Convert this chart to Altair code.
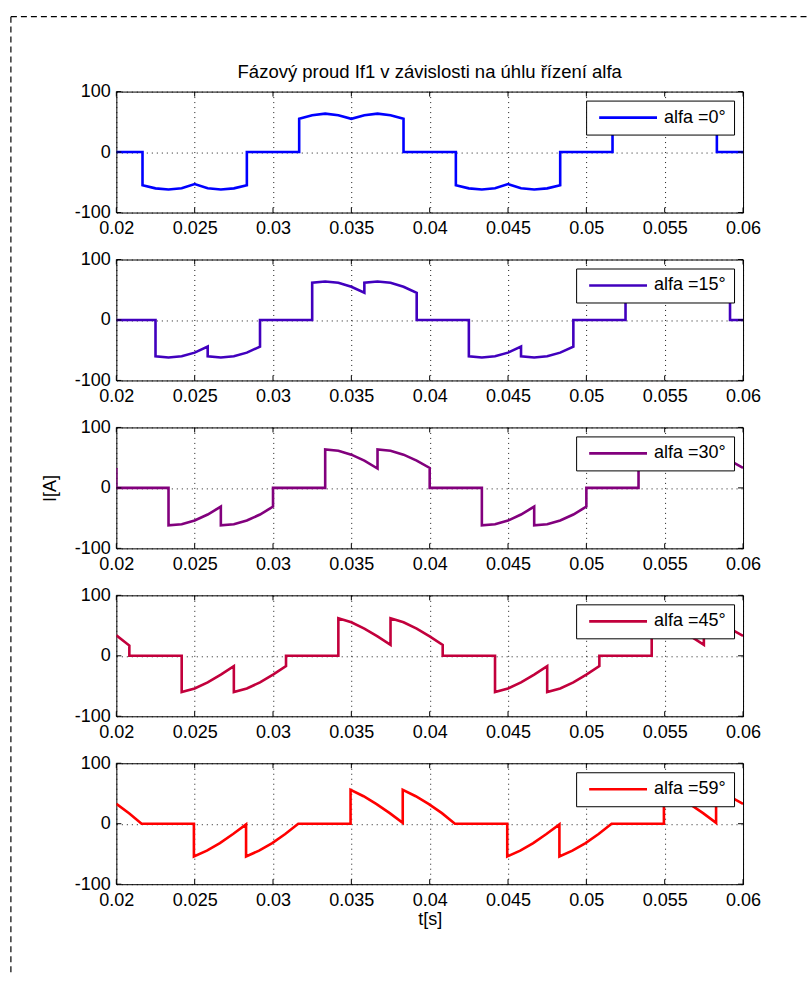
import altair as alt
import pandas as pd

FONT = "Liberation Sans, Arial, Helvetica, sans-serif"

# Phase current If1 [A] versus time t [s], one series per firing angle alfa
t_a0 = [0.02, 0.02167, 0.02167, 0.0225, 0.02333, 0.02417, 0.025, 0.02583, 0.02667, 0.0275, 0.02833, 0.02833,
        0.03167, 0.03167, 0.0325, 0.03333, 0.03417, 0.035, 0.03583, 0.03667, 0.0375, 0.03833, 0.03833,
        0.04167, 0.04167, 0.0425, 0.04333, 0.04417, 0.045, 0.04583, 0.04667, 0.0475, 0.04833, 0.04833,
        0.05167, 0.05167, 0.0525, 0.05333, 0.05417, 0.055, 0.05583, 0.05667, 0.0575, 0.05833, 0.05833, 0.06]
i_a0 = [0, 0, -55, -60, -62, -60, -53, -60, -62, -60, -55, 0,
        0, 55, 61, 63.5, 61, 55, 61, 63.5, 61, 55, 0,
        0, -55, -60, -62, -60, -53, -60, -62, -60, -55, 0,
        0, 55, 61, 63.5, 61, 55, 61, 63.5, 61, 55, 0, 0]

t_a15 = [0.02, 0.0225, 0.0225, 0.02333, 0.02417, 0.025, 0.02583, 0.02583, 0.02667, 0.0275, 0.02833, 0.02917, 0.02917,
         0.0325, 0.0325, 0.03333, 0.03417, 0.035, 0.03583, 0.03583, 0.03667, 0.0375, 0.03833, 0.03917, 0.03917,
         0.0425, 0.0425, 0.04333, 0.04417, 0.045, 0.04583, 0.04583, 0.04667, 0.0475, 0.04833, 0.04917, 0.04917,
         0.0525, 0.0525, 0.05333, 0.05417, 0.055, 0.05583, 0.05583, 0.05667, 0.0575, 0.05833, 0.05917, 0.05917, 0.06]
i_a15 = [0, 0, -60, -62, -60, -54, -44, -60, -62, -60, -54, -44, 0,
         0, 61.5, 63.5, 61.5, 55, 45, 61.5, 63.5, 61.5, 55, 45, 0,
         0, -60, -62, -60, -54, -44, -60, -62, -60, -54, -44, 0,
         0, 61.5, 63.5, 61.5, 55, 45, 61.5, 63.5, 61.5, 55, 45, 0, 0]

t_a30 = [0.02, 0.02, 0.02333, 0.02333, 0.02417, 0.025, 0.02583, 0.02667, 0.02667, 0.0275, 0.02833, 0.02917, 0.03, 0.03,
         0.03333, 0.03333, 0.03417, 0.035, 0.03583, 0.03667, 0.03667, 0.0375, 0.03833, 0.03917, 0.04, 0.04,
         0.04333, 0.04333, 0.04417, 0.045, 0.04583, 0.04667, 0.04667, 0.0475, 0.04833, 0.04917, 0.05, 0.05,
         0.05333, 0.05333, 0.05417, 0.055, 0.05583, 0.05667, 0.05667, 0.0575, 0.05833, 0.05917, 0.06]
i_a30 = [33, 0, 0, -62, -60, -54, -44, -31, -62, -60, -54, -44, -31, 0,
         0, 63.5, 61.5, 55, 45, 32, 63.5, 61.5, 55, 45, 33, 0,
         0, -62, -60, -54, -44, -31, -62, -60, -54, -44, -31, 0,
         0, 63.5, 61.5, 55, 45, 32, 63.5, 61.5, 55, 45, 33]

t_a45 = [0.02, 0.02083, 0.02083, 0.02417, 0.02417, 0.025, 0.02583, 0.02667, 0.0275, 0.0275, 0.02833, 0.02917, 0.03, 0.03083, 0.03083,
         0.03417, 0.03417, 0.035, 0.03583, 0.03667, 0.0375, 0.0375, 0.03833, 0.03917, 0.04, 0.04083, 0.04083,
         0.04417, 0.04417, 0.045, 0.04583, 0.04667, 0.0475, 0.0475, 0.04833, 0.04917, 0.05, 0.05083, 0.05083,
         0.05417, 0.05417, 0.055, 0.05583, 0.05667, 0.0575, 0.0575, 0.05833, 0.05917, 0.06]
i_a45 = [34, 17, 0, 0, -60, -54, -44, -31, -17, -60, -54, -44, -31, -17, 0,
         0, 62, 55.5, 45, 32, 18, 62, 55.5, 45, 32, 18, 0,
         0, -60, -54, -44, -31, -17, -60, -54, -44, -31, -17, 0,
         0, 62, 55.5, 45, 32, 18, 62, 55.5, 45, 33]

t_a59 = [0.02, 0.02083, 0.02161, 0.02495, 0.02495, 0.02578, 0.02661, 0.02745, 0.02828, 0.02828, 0.02911, 0.02995, 0.03078, 0.03161,
         0.03495, 0.03495, 0.03578, 0.03661, 0.03745, 0.03828, 0.03828, 0.03911, 0.03995, 0.04078, 0.04161,
         0.04495, 0.04495, 0.04578, 0.04661, 0.04745, 0.04828, 0.04828, 0.04911, 0.04995, 0.05078, 0.05161,
         0.05495, 0.05495, 0.05578, 0.05661, 0.05745, 0.05828, 0.05828, 0.05911, 0.06]
i_a59 = [33, 17, 0, 0, -54, -44.5, -32, -17, -1, -54, -44.5, -32, -17, 0,
         0, 56, 45.5, 32.5, 17.5, 1.5, 56, 45.5, 32.5, 17.5, 0,
         0, -54, -44.5, -32, -17, -1, -54, -44.5, -32, -17, 0,
         0, 56, 45.5, 32.5, 17.5, 1.5, 56, 45.5, 33]

labels = ["alfa =0°", "alfa =15°", "alfa =30°", "alfa =45°", "alfa =59°"]
colors = ["#0000ff", "#4100be", "#82007d", "#c2003c", "#ff0000"]

x_ticks = [0.02, 0.025, 0.03, 0.035, 0.04, 0.045, 0.05, 0.055, 0.06]
y_ticks = [-100, 0, 100]

W, H = 627, 121
XDOM = [0.02, 0.06]
YDOM = [-100, 100]


def panel(t, cur, label, color, ytitle=None, xtitle=None):
    df = pd.DataFrame({"t": t, "I": cur, "k": list(range(len(t))), "s": [label] * len(t)})
    xs = alt.Scale(domain=XDOM, nice=False, zero=False)
    ys = alt.Scale(domain=YDOM, nice=False, zero=False)
    x_axis = alt.Axis(values=x_ticks, format=".3~f", labelFlush=False, labelOverlap=False,
                      labelPadding=7, title=xtitle, titlePadding=1)
    y_axis = alt.Axis(values=y_ticks, labelExpr="datum.value + ''", labelPadding=6,
                      title=ytitle, titlePadding=15)

    line = alt.Chart(df).mark_line(strokeWidth=2.6, clip=True).encode(
        x=alt.X("t:Q", scale=xs, axis=x_axis),
        y=alt.Y("I:Q", scale=ys, axis=y_axis),
        order=alt.Order("k:Q"),
        color=alt.Color("s:N", scale=alt.Scale(domain=[label], range=[color]),
                        legend=alt.Legend(title=None, orient="top-right", offset=9, padding=8,
                                          fillColor="white", strokeColor="black",
                                          symbolType="M-6,0H6", symbolSize=93, symbolStrokeWidth=2.6,
                                          symbolOffset=25, labelOffset=27, labelFont=FONT,
                                          labelFontSize=18, labelColor="black", labelLimit=300)),
    )

    # short inward tick marks on all four sides of the box
    xt = pd.DataFrame({"t": x_ticks})
    yt = pd.DataFrame({"I": y_ticks})
    tick_bottom = alt.Chart(xt).mark_rule(color="black", y2Offset=-5).encode(
        x=alt.X("t:Q", scale=xs, axis=x_axis), y=alt.YDatum(-100, scale=ys, axis=y_axis),
        y2=alt.Y2Datum(-100))
    tick_top = alt.Chart(xt).mark_rule(color="black", y2Offset=5).encode(
        x=alt.X("t:Q", scale=xs, axis=x_axis), y=alt.YDatum(100, scale=ys, axis=y_axis),
        y2=alt.Y2Datum(100))
    tick_left = alt.Chart(yt).mark_rule(color="black", x2Offset=5).encode(
        y=alt.Y("I:Q", scale=ys, axis=y_axis), x=alt.XDatum(0.02, scale=xs, axis=x_axis),
        x2=alt.X2Datum(0.02))
    tick_right = alt.Chart(yt).mark_rule(color="black", x2Offset=-5).encode(
        y=alt.Y("I:Q", scale=ys, axis=y_axis), x=alt.XDatum(0.06, scale=xs, axis=x_axis),
        x2=alt.X2Datum(0.06))

    return [line, tick_bottom, tick_top, tick_left, tick_right]


p1 = alt.layer(*panel(t_a0, i_a0, labels[0], colors[0])).properties(
    width=W, height=H,
    title=alt.TitleParams("Fázový proud If1 v závislosti na úhlu řízení alfa", font=FONT, fontSize=18.5,
                          fontWeight="normal", color="black", anchor="middle", frame="group",
                          baseline="alphabetic", offset=-14))
p2 = alt.layer(*panel(t_a15, i_a15, labels[1], colors[1])).properties(width=W, height=H)
p3 = alt.layer(*panel(t_a30, i_a30, labels[2], colors[2], ytitle="I[A]")).properties(width=W, height=H)
p4 = alt.layer(*panel(t_a45, i_a45, labels[3], colors[3])).properties(width=W, height=H)

# dashed page frame, drawn from the last panel
frame_df = pd.DataFrame({"f": [0]})
frame_top = alt.Chart(frame_df).mark_rule(color="black", strokeWidth=1.2, strokeDash=[6, 4]).encode(
    x=alt.value(-105.5), x2=alt.value(690.5), y=alt.value(-747))
frame_left = alt.Chart(frame_df).mark_rule(color="black", strokeWidth=1.2, strokeDash=[6, 4]).encode(
    x=alt.value(-105.5), y=alt.value(-747), y2=alt.value(213))
p5 = alt.layer(*panel(t_a59, i_a59, labels[4], colors[4], xtitle="t[s]"),
               frame_top, frame_left).properties(width=W, height=H)

chart = alt.vconcat(p1, p2, p3, p4, p5, spacing=47, bounds="flush").resolve_scale(
    color="independent").resolve_legend(color="independent").properties(
    padding={"left": 9.4, "top": 14.4, "right": 0, "bottom": 0},
    background="white",
).configure_view(
    stroke="black", strokeWidth=1
).configure_axis(
    grid=True, gridColor="black", gridDash=[1, 4], gridWidth=1, gridOpacity=0.9,
    ticks=False, domain=False,
    labelFont=FONT, labelFontSize=18, labelColor="black",
    titleFont=FONT, titleFontSize=18, titleFontWeight="normal", titleColor="black",
)

chart.save("out.html", embed_options={"renderer": "svg", "actions": False})
